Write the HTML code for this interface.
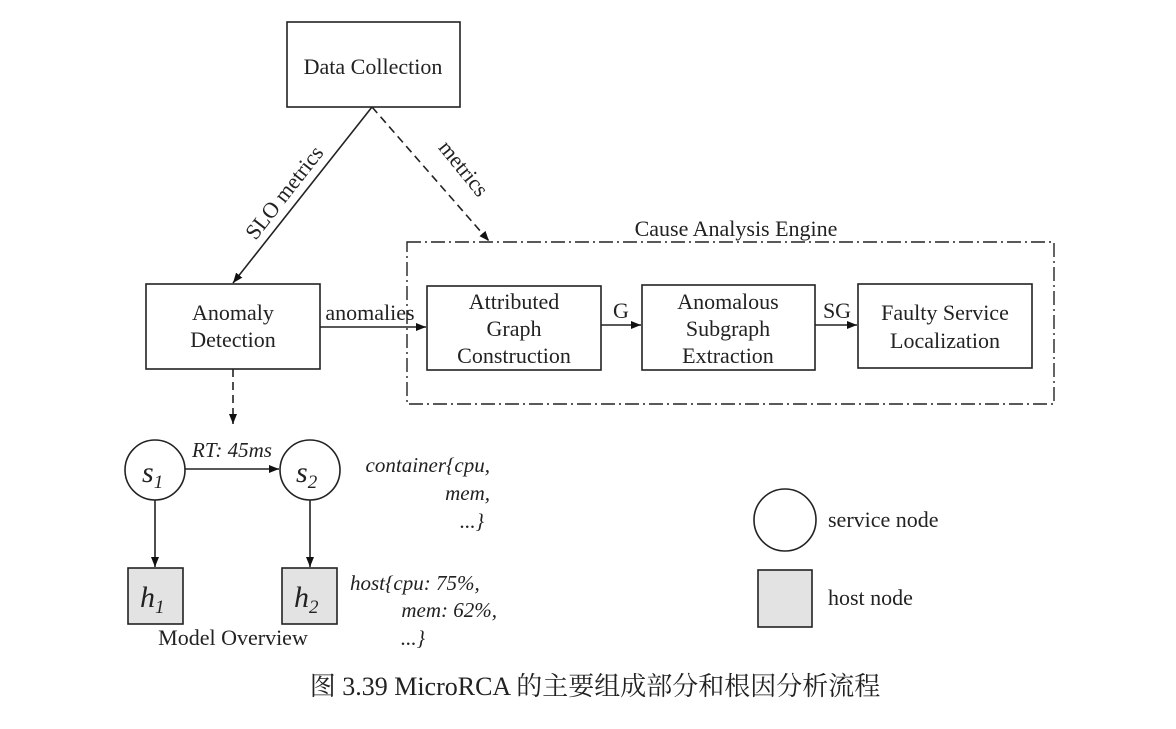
<!DOCTYPE html>
<html><head><meta charset="utf-8"><style>
body{margin:0;background:#fff;width:1176px;height:724px;overflow:hidden}
svg text{font-family:"Liberation Serif","Noto Serif CJK SC",serif;fill:#222}
</style></head><body>
<svg width="1176" height="724" viewBox="0 0 1176 724" xmlns="http://www.w3.org/2000/svg">
<defs><marker id="a" viewBox="0 0 10 10" refX="10" refY="5" markerWidth="10" markerHeight="10" markerUnits="userSpaceOnUse" orient="auto"><path d="M0,1 L10,5 L0,9z" fill="#111"/></marker></defs>
<g fill="none" stroke="#222" stroke-width="1.6">
<rect x="287" y="22" width="173" height="85"/>
<rect x="146" y="284" width="174" height="85"/>
<rect x="427" y="286" width="174" height="84"/>
<rect x="642" y="285" width="173" height="85"/>
<rect x="858" y="284" width="174" height="84"/>
<rect x="407" y="242" width="647" height="162" stroke-dasharray="14,4,2,4" stroke-width="1.4"/>
<line x1="372" y1="107" x2="233" y2="283" marker-end="url(#a)"/>
<line x1="372" y1="107" x2="489" y2="241" stroke-dasharray="8,5" marker-end="url(#a)"/>
<line x1="320" y1="327" x2="426" y2="327" marker-end="url(#a)"/>
<line x1="601" y1="325" x2="641" y2="325" marker-end="url(#a)"/>
<line x1="815" y1="325" x2="857" y2="325" marker-end="url(#a)"/>
<line x1="233" y1="369" x2="233" y2="424" stroke-dasharray="8,5" marker-end="url(#a)"/>
<circle cx="155" cy="470" r="30"/>
<circle cx="310" cy="470" r="30"/>
<line x1="185" y1="469" x2="279" y2="469" marker-end="url(#a)"/>
<line x1="155" y1="500" x2="155" y2="567" marker-end="url(#a)"/>
<line x1="310" y1="500" x2="310" y2="567" marker-end="url(#a)"/>
<rect x="128" y="568" width="55" height="56" fill="#e3e3e3"/>
<rect x="282" y="568" width="55" height="56" fill="#e3e3e3"/>
<circle cx="785" cy="520" r="31"/>
<rect x="758" y="570" width="54" height="57" fill="#e3e3e3"/>
</g>
<g font-size="22" text-anchor="middle">
<text x="373" y="74">Data Collection</text>
<text x="233" y="320">Anomaly</text><text x="233" y="347">Detection</text>
<text x="514" y="309">Attributed</text><text x="514" y="336">Graph</text><text x="514" y="363">Construction</text>
<text x="728" y="309">Anomalous</text><text x="728" y="336">Subgraph</text><text x="728" y="363">Extraction</text>
<text x="945" y="320">Faulty Service</text><text x="945" y="348">Localization</text>
<text x="736" y="236">Cause Analysis Engine</text>
<text x="370" y="320">anomalies</text>
<text x="621" y="318">G</text>
<text x="837" y="318">SG</text>
<text transform="translate(290,197) rotate(-52)">SLO metrics</text>
<text transform="translate(458,173) rotate(51)">metrics</text>
<text x="233" y="645">Model Overview</text>
</g>
<g font-size="21" font-style="italic">
<text x="192" y="457">RT: 45ms</text>
<text x="490" y="472" text-anchor="end">container{cpu,</text>
<text x="490" y="500" text-anchor="end">mem,</text>
<text x="484" y="528" text-anchor="end">...}</text>
<text x="350" y="590">host{cpu: 75%,</text>
<text x="497" y="617" text-anchor="end">mem: 62%,</text>
<text x="425" y="645" text-anchor="end">...}</text>
<text x="142" y="482" font-size="30">s<tspan font-size="19" dy="6">1</tspan></text>
<text x="296" y="482" font-size="30">s<tspan font-size="19" dy="6">2</tspan></text>
<text x="140" y="607" font-size="30">h<tspan font-size="19" dy="6">1</tspan></text>
<text x="294" y="607" font-size="30">h<tspan font-size="19" dy="6">2</tspan></text>
</g>
<g font-size="22">
<text x="828" y="527">service node</text>
<text x="828" y="605">host node</text>
</g>
<text x="595" y="695" font-size="26" text-anchor="middle">图 3.39 MicroRCA 的主要组成部分和根因分析流程</text>
</svg>
</body></html>
